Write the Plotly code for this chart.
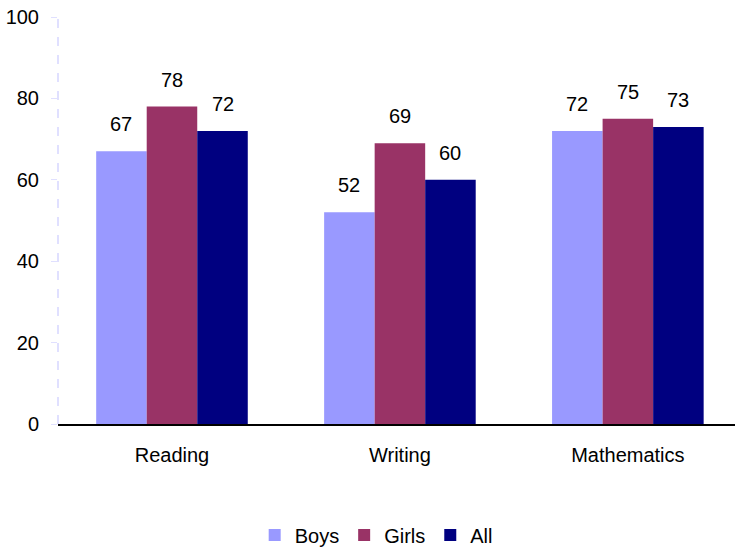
import plotly.graph_objects as go

categories = ["Reading", "Writing", "Mathematics"]
boys = [67, 52, 72]
girls = [78, 69, 75]
all_ = [72, 60, 73]
series_names = ["Boys", "Girls", "All"]
colors = ["#9999FF", "#993366", "#000080"]
y_ticks = [0, 20, 40, 60, 80, 100]

FONT = "Liberation Sans, Arial, sans-serif"
FS = 20
bargap = 0.335
fig = go.Figure()
series = [boys, girls, all_]
for name, vals, col in zip(series_names, series, colors):
    fig.add_trace(go.Bar(x=categories, y=vals, name=name, marker=dict(color=col, line=dict(width=0))))

w = (1 - bargap) / 3
annotations = []
for j, vals in enumerate(series):
    for i, v in enumerate(vals):
        annotations.append(dict(x=i + (j - 1) * w, y=v, xref="x", yref="y", text=str(v),
                                showarrow=False, yanchor="bottom", yshift=14,
                                font=dict(family=FONT, size=FS, color="#000000")))

fig.update_layout(
    width=735, height=549,
    margin=dict(l=58, r=0, t=17, b=125, autoexpand=False),
    paper_bgcolor="white", plot_bgcolor="white",
    barmode="group", bargap=bargap, bargroupgap=0,
    font=dict(family=FONT, size=FS, color="#000000"),
    showlegend=True,
    legend=dict(orientation="h", x=0.47, xanchor="center", y=-0.273, yanchor="middle",
                font=dict(family=FONT, size=FS), itemwidth=30, tracegroupgap=0),
    annotations=annotations,
    shapes=[dict(type="line", xref="paper", yref="y", x0=0, x1=0, y0=0, y1=100,
                 line=dict(color="#E0E0FF", width=2, dash="dash"))],
    xaxis=dict(range=[-0.5, 2.47], showline=True, linecolor="#000000", linewidth=1.5,
               ticks="", ticklabelstandoff=12, tickfont=dict(family=FONT, size=FS),
               automargin=False),
    yaxis=dict(range=[0, 100], tickvals=y_ticks, showgrid=False, zeroline=False,
               showline=False, ticks="outside", ticklen=6, tickcolor="#E0E0FF", tickwidth=1,
               ticklabelstandoff=8, tickfont=dict(family=FONT, size=FS), automargin=False),
)
fig.write_html("out.html", config={"displayModeBar": False},
               post_script="document.body.style.margin='0';document.body.style.overflow='hidden';")
